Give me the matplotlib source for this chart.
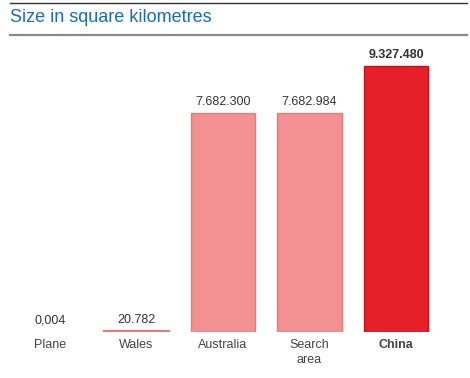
import matplotlib
matplotlib.use('Agg')
import matplotlib.pyplot as plt
from matplotlib.lines import Line2D

plt.rcParams['font.family'] = ['Liberation Sans', 'DejaVu Sans']

categories = ['Plane', 'Wales', 'Australia', 'Search\narea', 'China']
values = [0.004, 20782, 7682300, 7682984, 9327480]
value_labels = ['0,004', '20.782', '7.682.300', '7.682.984', '9.327.480']
highlight = [False, False, False, False, True]

W, H = 470, 378
fig = plt.figure(figsize=(W / 100, H / 100), dpi=100)
fig.patch.set_facecolor('white')

# header lines + title
fig.add_artist(Line2D([10 / W, 467 / W], [1 - 3 / H, 1 - 3 / H], color='#333333', lw=1))
fig.add_artist(Line2D([10 / W, 467 / W], [1 - 34.5 / H, 1 - 34.5 / H], color='#8a8a8a', lw=1.6))
fig.text(10 / W, 1 - 18 / H, 'Size in square kilometres', fontsize=13, color='#1a6db5',
         ha='left', va='center')

ax = fig.add_axes([6.75 / W, (H - 332) / H, 432.5 / W, 292 / H])
ax.set_xlim(-0.5, 4.5)
ax.set_ylim(0, 1.024e7)
ax.axis('off')

x = list(range(len(categories)))
fills = ['#e52028' if h else '#f29092' for h in highlight]
edges = ['#c0141b' if h else '#e07b7e' for h in highlight]
# tiny values get no outline (plane) or a thicker one (wales) like the original
lws = [0 if v < 1 else (1.6 if v < 1e5 else 1) for v in values]
ax.bar(x, values, width=0.74, color=fills, edgecolor=edges, linewidth=lws)

for xi, v, lab, h in zip(x, values, value_labels, highlight):
    ax.annotate(lab, (xi, v), xytext=(0, 5), textcoords='offset pixels',
                ha='center', va='bottom', fontsize=9, color='#333333',
                fontweight='bold' if h else 'normal')
    ax.annotate(categories[xi], (xi, 0), xytext=(0, -7), textcoords='offset pixels',
                ha='center', va='top', fontsize=9, color='#444444',
                fontweight='bold' if h else 'normal', linespacing=1.3)

fig.savefig('out.png', dpi=100, facecolor='white')
